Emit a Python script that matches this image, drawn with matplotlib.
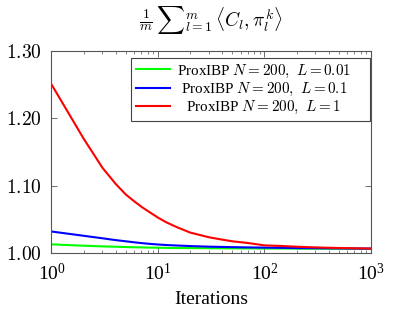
import matplotlib
matplotlib.use('Agg')
import matplotlib.pyplot as plt
from matplotlib.ticker import FuncFormatter, LogLocator

plt.rcParams['font.family'] = ['Liberation Serif', 'DejaVu Serif']
plt.rcParams['mathtext.fontset'] = 'cm'

# data
iters = [1, 2, 3, 4, 5, 6, 7, 8, 10, 12, 15, 20, 30, 40, 50, 70, 100, 150, 200, 300, 500, 700, 1000]
cost_L001 = [1.0135, 1.0115, 1.0105, 1.0100, 1.0095, 1.0092, 1.0090, 1.0088, 1.0085, 1.0083, 1.0081, 1.0080,
             1.0078, 1.0077, 1.0076, 1.0075, 1.0074, 1.0073, 1.0072, 1.0071, 1.0071, 1.0070, 1.0070]
cost_L01 = [1.0325, 1.0262, 1.0225, 1.0198, 1.0180, 1.0165, 1.0154, 1.0145, 1.0133, 1.0125, 1.0118, 1.0110,
            1.0101, 1.0097, 1.0094, 1.0090, 1.0087, 1.0083, 1.0080, 1.0078, 1.0075, 1.0073, 1.0072]
cost_L1 = [1.250, 1.170, 1.127, 1.103, 1.087, 1.077, 1.069, 1.063, 1.053, 1.046, 1.039, 1.031,
           1.024, 1.0205, 1.018, 1.0155, 1.012, 1.0110, 1.0100, 1.0090, 1.0081, 1.0077, 1.0073]
labels = [r'ProxIBP $N=200,\ L=0.01$', r'ProxIBP $N=200,\ L=0.1$', r'ProxIBP $N=200,\ L=1$']
colors = ['#00ff00', '#0000ff', '#ff0000']
yticks = [1.00, 1.10, 1.20, 1.30]

fig = plt.figure(figsize=(3.94, 3.14), dpi=100)
ax = fig.add_axes([0.1307, 0.1927, 0.8109, 0.6462])

for ys, lab, c in zip([cost_L001, cost_L01, cost_L1], labels, colors):
    ax.plot(iters, ys, color=c, lw=1.5, label=lab)

ax.set_xscale('log')
ax.set_xlim(1, 1000)
ax.set_ylim(1.00, 1.30)
ax.set_yticks(yticks)
ax.yaxis.set_major_formatter(FuncFormatter(lambda v, _: f'${v:.2f}$'))
ax.xaxis.set_minor_locator(LogLocator(base=10, subs=range(2, 10)))

edge = '#555555'
for s in ax.spines.values():
    s.set_color(edge)
    s.set_linewidth(0.8)
ax.tick_params(which='both', direction='in', top=True, right=True, color=edge, labelsize=14)
ax.tick_params(which='major', length=4, width=0.6, pad=7)
ax.tick_params(which='minor', length=2.5, width=0.5)

ax.set_xlabel('Iterations', fontsize=14, labelpad=5)
fig.text(0.536, 0.935, r'$\frac{1}{m}\,{\sum}_{l=1}^{m}\,\langle C_l, \pi_l^k\rangle$',
         ha='center', va='center', fontsize=14)

leg_fs = 10.9
leg = ax.legend(loc='upper right', bbox_to_anchor=(0.996, 0.963), borderaxespad=0,
                fontsize=leg_fs, handlelength=2.25, handletextpad=1.4, labelspacing=0.08,
                fancybox=False, framealpha=1, edgecolor='#444444', borderpad=0.3)
leg.get_frame().set_linewidth(0.8)

# centre the legend entries like the original (text sits left of the extra pad)
fig.canvas.draw()
r = fig.canvas.get_renderer()
texts = leg.get_texts()
ws = [t.get_window_extent(r).width for t in texts]
W = max(ws)
back = 0.95 * leg_fs * fig.dpi / 72
for t, w in zip(texts, ws):
    t.set_position(((W - w) / 2 - back, 0))

fig.savefig('out.png', dpi=100)
